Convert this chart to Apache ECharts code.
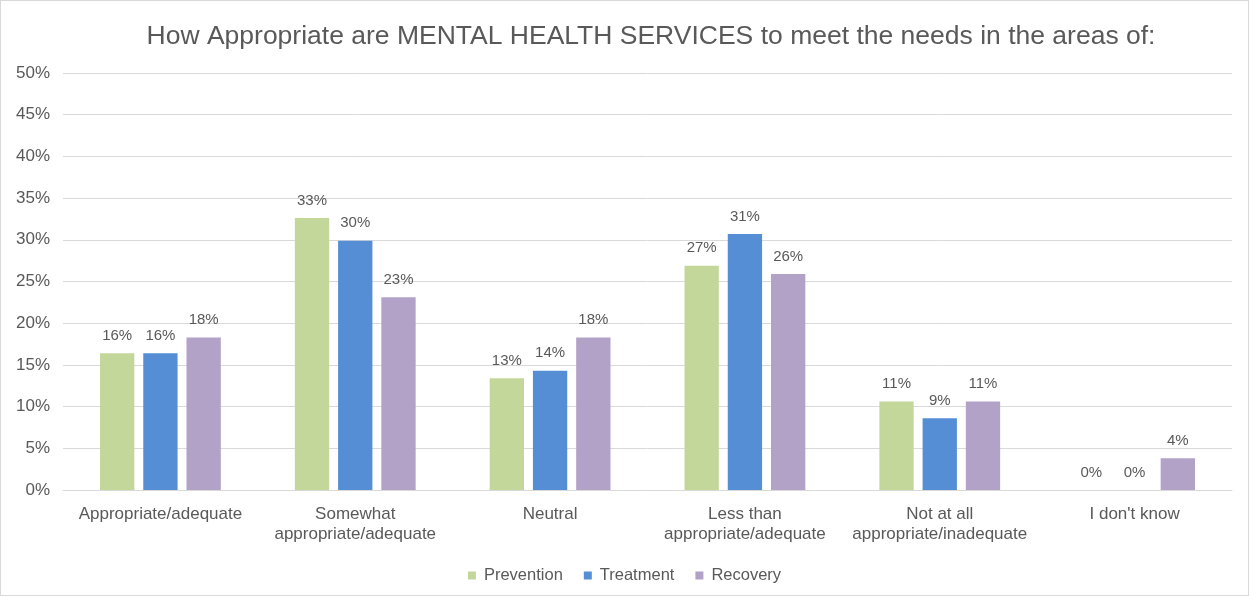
<!DOCTYPE html>
<html><head><meta charset="utf-8">
<script src="https://cdn.jsdelivr.net/npm/echarts@6/dist/echarts.min.js"></script>
<style>html,body{margin:0;padding:0;background:#fff}#c{width:1247px;height:594px;border:1px solid #d9d9d9}</style>
</head><body><div id="c"></div>
<script>
const categories = ['Appropriate/adequate','Somewhat\nappropriate/adequate','Neutral','Less than\nappropriate/adequate','Not at all\nappropriate/inadequate',"I don't know"];
const prevention = [16.4, 32.6, 13.4, 26.9, 10.6, 0];
const treatment = [16.4, 29.9, 14.3, 30.7, 8.6, 0];
const recovery = [18.3, 23.1, 18.3, 25.9, 10.6, 3.8];
const seriesNames = ['Prevention','Treatment','Recovery'];
const colors = ['#C4D79B','#558ED5','#B3A2C7'];
const font = '"Liberation Sans", Arial, sans-serif';
const chart = echarts.init(document.getElementById('c'));
const mk = (name, data, color) => ({
  name, type:'bar', data, barGap:'26%', barCategoryGap:'38%',
  itemStyle:{color},
  label:{show:true, position:'top', distance:10, color:'#595959', fontSize:15, fontFamily:font,
    formatter:p=>Math.round(p.value)+'%'}
});
chart.setOption({
  animation:false,
  color:colors,
  title:{text:'How Appropriate are MENTAL HEALTH SERVICES to meet the needs in the areas of:',
    left:645, top:17, textAlign:'center',
    textStyle:{fontSize:26.5, fontWeight:'normal', color:'#595959', fontFamily:font}},
  legend:{top:561, left:'center', itemWidth:8, itemHeight:8, itemGap:21, icon:'rect',
    textStyle:{fontSize:16.5, color:'#595959', fontFamily:font, padding:[0,0,0,3]}, data:seriesNames},
  grid:{left:62, right:16, top:72, bottom:105, containLabel:false},
  xAxis:{type:'category', data:categories,
    axisLine:{lineStyle:{color:'#d9d9d9'}}, axisTick:{show:false},
    axisLabel:{color:'#595959', fontSize:17, fontFamily:font, margin:14, lineHeight:20, interval:0}},
  yAxis:{type:'value', min:0, max:50, interval:5,
    axisLabel:{formatter:'{value}%', color:'#595959', fontSize:17, fontFamily:font, margin:13},
    splitLine:{lineStyle:{color:'#d9d9d9'}}, axisLine:{show:false}, axisTick:{show:false}},
  series:[mk(seriesNames[0], prevention, colors[0]), mk(seriesNames[1], treatment, colors[1]), mk(seriesNames[2], recovery, colors[2])]
});
</script></body></html>
